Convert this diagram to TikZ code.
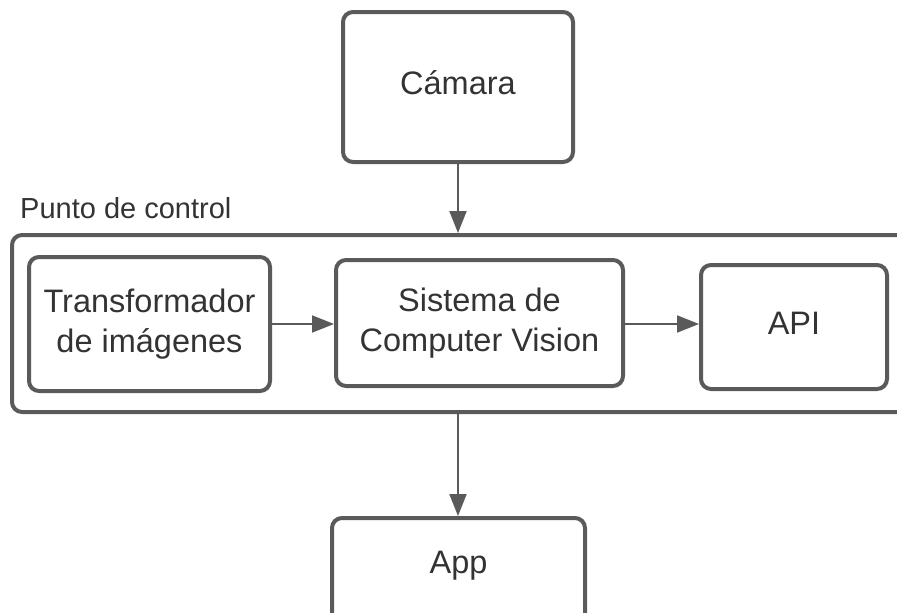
\documentclass[tikz,border=0pt]{standalone}
\usepackage{fontspec}
\setmainfont{Liberation Sans}
\usetikzlibrary{arrows.meta}
\definecolor{edge}{HTML}{5A5A5A}
\definecolor{txt}{HTML}{333333}
\tikzset{
  blk/.style={draw=edge, line width=4pt, rounded corners=10pt, align=center, text=txt,
    font=\fontsize{32.5}{40}\selectfont, inner sep=0pt},
  lab/.style={text=txt, font=\fontsize{32.5}{40}\selectfont, inner sep=0pt},
  conn/.style={draw=edge, line width=2pt, -{Triangle[length=22pt,width=17pt]}},
}
\begin{document}
\begin{tikzpicture}[x=1pt,y=-1pt]
\useasboundingbox (0,0) rectangle (897,613);
\clip (0,0) rectangle (897,613);
\node[blk, minimum width=230pt, minimum height=150pt] (cam) at (458,87) {};
\node[lab, anchor=base] (camtxt) at (458,94) {Cámara};
\node[text=txt, font=\fontsize{29}{35}\selectfont, anchor=base west, inner sep=0pt] (lbl) at (20,218) {Punto de control};
\node[blk, minimum width=908pt, minimum height=177pt] (ctrl) at (466,323.5) {};
\node[blk, minimum width=241pt, minimum height=134pt] (tr) at (149.5,324) {Transformador\\de imágenes};
\node[blk, minimum width=287pt, minimum height=126pt] (cv) at (479.5,323) {Sistema de\\Computer Vision};
\node[blk, minimum width=186pt, minimum height=124pt] (api) at (794,327) {};
\node[lab, anchor=base] (apitxt) at (794,334) {API};
\node[blk, minimum width=253pt, minimum height=140pt] (app) at (458.5,588) {};
\node[lab, anchor=base] (apptxt) at (458.5,573) {App};
\draw[conn] (cam.south) -- (cam.south |- ctrl.north);
\draw[conn] (tr.east |- 0,324) -- (cv.west |- 0,324);
\draw[conn] (cv.east |- 0,324) -- (api.west |- 0,324);
\draw[conn] (cam.south |- ctrl.south) -- (cam.south |- app.north);
\end{tikzpicture}
\end{document}
